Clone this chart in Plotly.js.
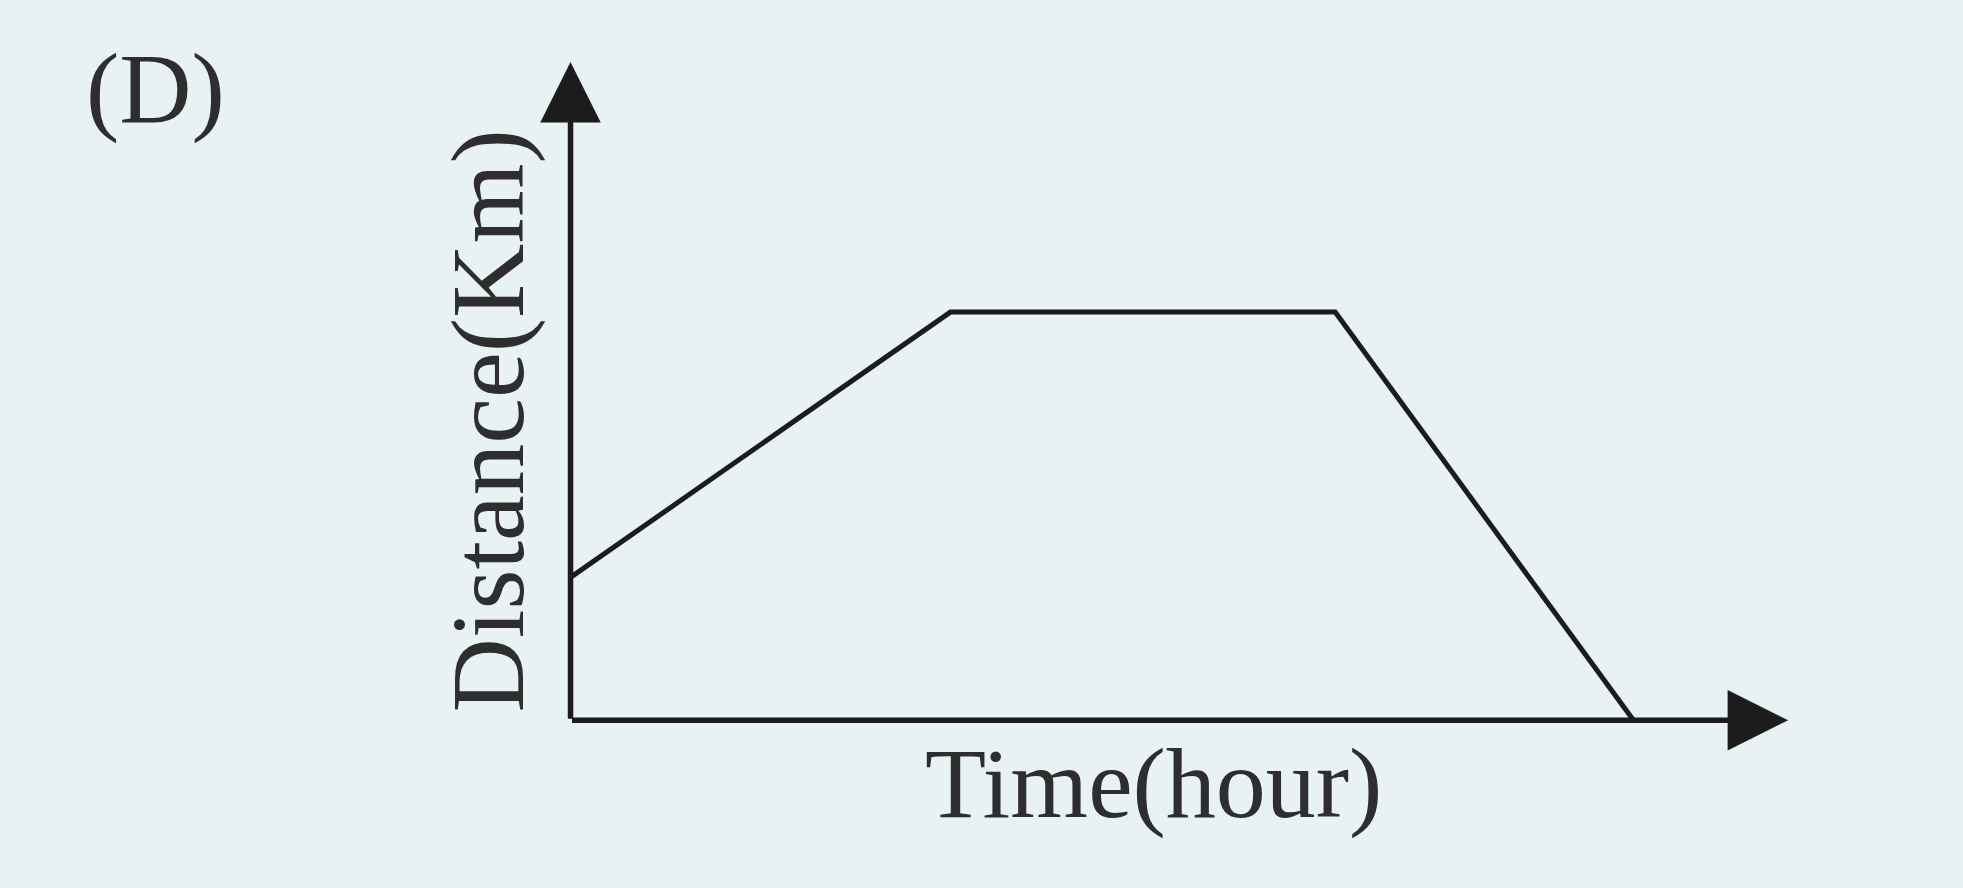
<!DOCTYPE html>
<html>
<head>
<meta charset="utf-8">
<script src="https://cdn.plot.ly/plotly-3.0.1.min.js"></script>
<style>
  html, body { margin: 0; padding: 0; background: #e8f2f5; }
  #chart { width: 1963px; height: 888px; }
</style>
</head>
<body>
<div id="chart"></div>
<script>
// Data (arbitrary units: no ticks are shown)
const timeHours = [0, 3.12, 6.28, 8.73];
const distanceKm = [2.17, 6.2, 6.2, 0];

const panelLabel = "(D)";
const xTitle = "Time(hour)";
const yTitle = "Distance(Km)";
const axisEnd = 10;

const ink = "#1c1c1c";
const textInk = "#2e2e2e";
const serif = "'Liberation Serif', 'Times New Roman', serif";

const trace = {
  type: "scatter",
  mode: "lines",
  x: timeHours,
  y: distanceKm,
  line: { color: ink, width: 5 },
  hoverinfo: "skip",
  showlegend: false
};

const layout = {
  width: 1963,
  height: 888,
  paper_bgcolor: "#e8f2f5",
  plot_bgcolor: "rgba(0,0,0,0)",
  margin: { l: 533.5, r: 114, t: 29.1, b: 148.26, pad: 0 },
  showlegend: false,
  xaxis: {
    range: [-0.3, 10.5], showgrid: false, zeroline: false, showline: false,
    showticklabels: false, ticks: "", fixedrange: true
  },
  yaxis: {
    range: [-0.3, 10.5], showgrid: false, zeroline: false, showline: false,
    showticklabels: false, ticks: "", fixedrange: true
  },
  annotations: [
    // x axis with arrow
    { x: axisEnd, y: 0, ax: 0, ay: 0, xref: "x", yref: "y", axref: "x", ayref: "y",
      text: "", showarrow: true, arrowhead: 2, arrowsize: 2.2, arrowwidth: 5.5, arrowcolor: ink },
    // y axis with arrow
    { x: 0, y: axisEnd, ax: 0, ay: 0, xref: "x", yref: "y", axref: "x", ayref: "y",
      text: "", showarrow: true, arrowhead: 2, arrowsize: 2.2, arrowwidth: 5.5, arrowcolor: ink },
    { text: xTitle, xref: "paper", yref: "paper", x: (1153 - 533.5) / 1315.44, y: (739.74 - 783) / 710.64,
      xanchor: "center", yanchor: "middle", showarrow: false,
      font: { family: serif, size: 100, color: textInk } },
    { text: yTitle, xref: "paper", yref: "paper", x: (488 - 533.5) / 1315.44, y: (739.74 - 421) / 710.64,
      xanchor: "center", yanchor: "middle", showarrow: false, textangle: -90,
      font: { family: serif, size: 103, color: textInk } },
    { text: panelLabel, xref: "paper", yref: "paper", x: (155 - 533.5) / 1315.44, y: (739.74 - 89) / 710.64,
      xanchor: "center", yanchor: "middle", showarrow: false,
      font: { family: serif, size: 100, color: textInk } }
  ]
};

Plotly.newPlot("chart", [trace], layout, { displayModeBar: false, staticPlot: true });
</script>
</body>
</html>
